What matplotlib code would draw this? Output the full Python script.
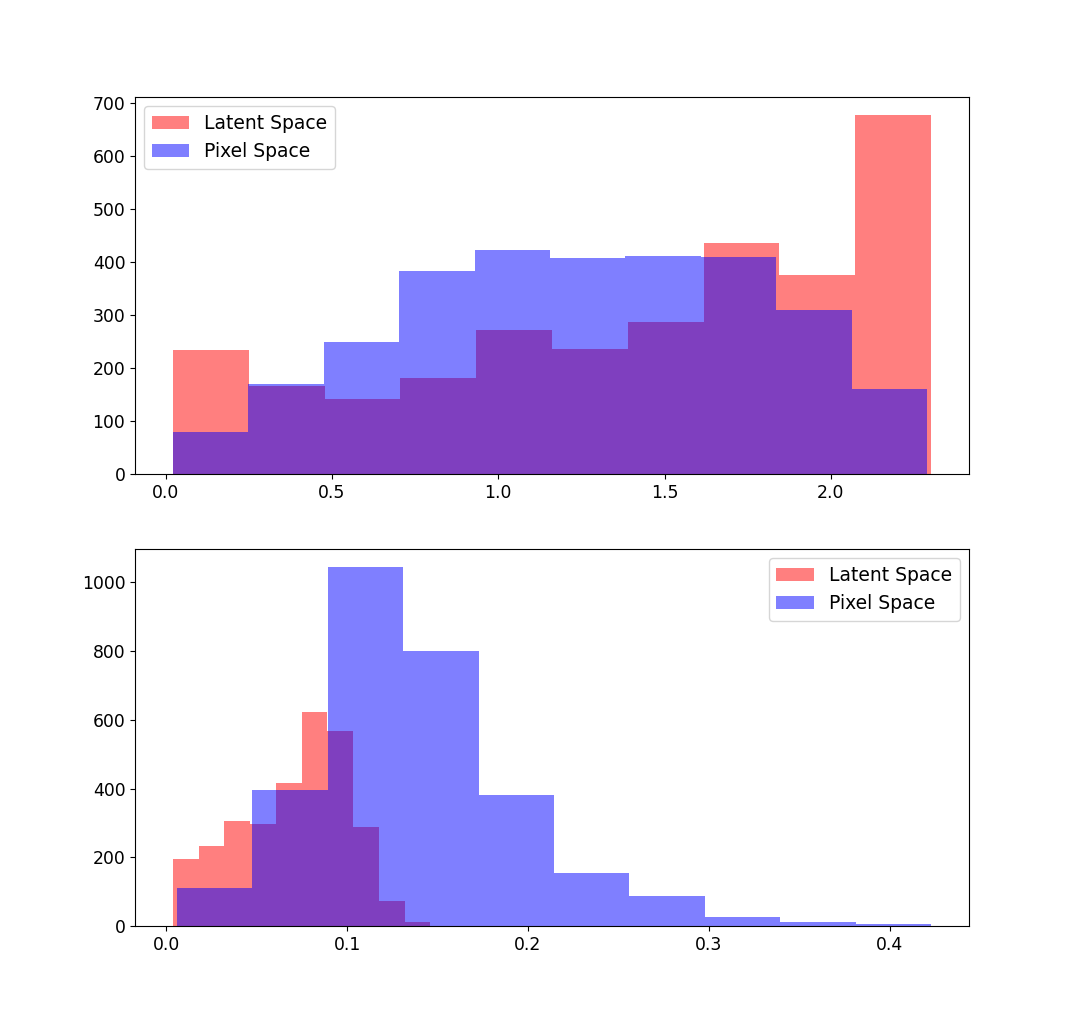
import numpy as np
import matplotlib
matplotlib.use('Agg')
import matplotlib.pyplot as plt

plt.rcParams['font.size'] = 12.4
plt.rcParams['legend.fontsize'] = 13.5

# top panel: bin range and counts
top_latent_range = (0.022, 2.301)
top_latent_counts = [233, 166, 142, 181, 271, 236, 286, 435, 375, 677]
top_pixel_range = (0.022, 2.289)
top_pixel_counts = [79, 170, 248, 382, 422, 407, 411, 410, 309, 160]

# bottom panel
bot_latent_range = (0.0037, 0.1461)
bot_latent_counts = [196, 232, 305, 298, 415, 622, 568, 288, 72, 12]
bot_pixel_range = (0.0059, 0.4229)
bot_pixel_counts = [111, 396, 1045, 800, 380, 154, 86, 27, 12, 5]

labels = ['Latent Space', 'Pixel Space']


def draw(ax, rng, counts, color, label):
    edges = np.linspace(rng[0], rng[1], len(counts) + 1)
    centers = (edges[:-1] + edges[1:]) / 2
    ax.hist(centers, bins=edges, weights=counts, color=color, alpha=0.5, label=label)


fig = plt.figure(figsize=(10.76, 10.32), dpi=100)
ax1 = fig.add_axes([0.1255, 0.5407, 0.775, 0.3653])
ax2 = fig.add_axes([0.1255, 0.1027, 0.775, 0.3653])

draw(ax1, top_latent_range, top_latent_counts, 'r', labels[0])
draw(ax1, top_pixel_range, top_pixel_counts, 'b', labels[1])
ax1.legend(loc='upper left')

draw(ax2, bot_latent_range, bot_latent_counts, 'r', labels[0])
draw(ax2, bot_pixel_range, bot_pixel_counts, 'b', labels[1])
ax2.legend(loc='upper right')

fig.savefig('out.png', dpi=100)
